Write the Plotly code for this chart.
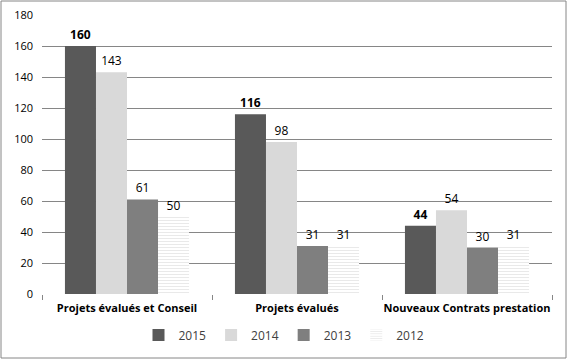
import plotly.graph_objects as go

categories = ["Projets évalués et Conseil", "Projets évalués", "Nouveaux Contrats prestation"]
years = ["2015", "2014", "2013", "2012"]
values = {
    "2015": [160, 116, 44],
    "2014": [143, 98, 54],
    "2013": [61, 31, 30],
    "2012": [50, 31, 31],
}
y_ticks = [0, 20, 40, 60, 80, 100, 120, 140, 160, 180]

colors = {"2015": "#595959", "2014": "#d9d9d9", "2013": "#7f7f7f", "2012": "#ffffff"}
FONT = "Open Sans, Liberation Sans, sans-serif"

fig = go.Figure()
for yr in years:
    kw = {}
    if yr == "2012":
        kw["marker"] = dict(color="#ffffff",
                            pattern=dict(shape="-", fgcolor="#d4d4d4", bgcolor="#ffffff",
                                         size=3, solidity=0.35),
                            line=dict(width=0))
    else:
        kw["marker"] = dict(color=colors[yr], line=dict(width=0))
    fig.add_trace(go.Bar(
        name=yr, x=categories, y=values[yr],
        text=[str(v) for v in values[yr]], textposition="outside",
        textfont=dict(family=FONT, size=12, color="#000000"),
        texttemplate=("<b>%{text}</b>" if yr == "2015" else "%{text}"),
        cliponaxis=False, **kw))

L, R, T, B = 42, 16, 15, 66
fig.update_layout(
    width=568, height=360,
    barmode="group", bargap=0.27, bargroupgap=0,
    plot_bgcolor="#ffffff", paper_bgcolor="#ffffff",
    margin=dict(l=L, r=R, t=T, b=B, autoexpand=False),
    font=dict(family=FONT, size=11, color="#000000"),
    showlegend=True,
    legend=dict(orientation="h", x=0.5, xanchor="center", xref="container",
                y=(360 - 335) / 360, yanchor="middle", yref="container",
                font=dict(size=12, color="#404040"), itemwidth=30,
                traceorder="normal"),
)
fig.update_xaxes(
    showgrid=False, showline=False, zeroline=False,
    ticks="outside", tickson="boundaries", ticklen=5, tickcolor="#868686",
    tickangle=0, automargin=False, ticklabelstandoff=6,
    tickfont=dict(family=FONT, size=11, color="#000000"),
    tickprefix="<b>", ticksuffix="</b>",
)
fig.update_yaxes(
    range=[0, 180], tickvals=y_ticks, showgrid=True, gridcolor="#868686", gridwidth=1,
    zeroline=False, showline=False, ticks="", ticklen=0, automargin=False,
    ticklabelstandoff=8,
    tickfont=dict(family=FONT, size=11, color="#000000"),
)
# outer frame
pw, ph = 568 - L - R, 360 - T - B
fig.add_shape(type="rect", xref="paper", yref="paper",
              x0=(1 - L) / pw, x1=(566 - L) / pw,
              y0=(360 - B - 358) / ph, y1=(360 - B - 1) / ph,
              line=dict(color="#868686", width=1), fillcolor="rgba(0,0,0,0)", layer="below")

fig.write_html("out.html", config={"displayModeBar": False},
               post_script="document.body.style.margin='0';")
